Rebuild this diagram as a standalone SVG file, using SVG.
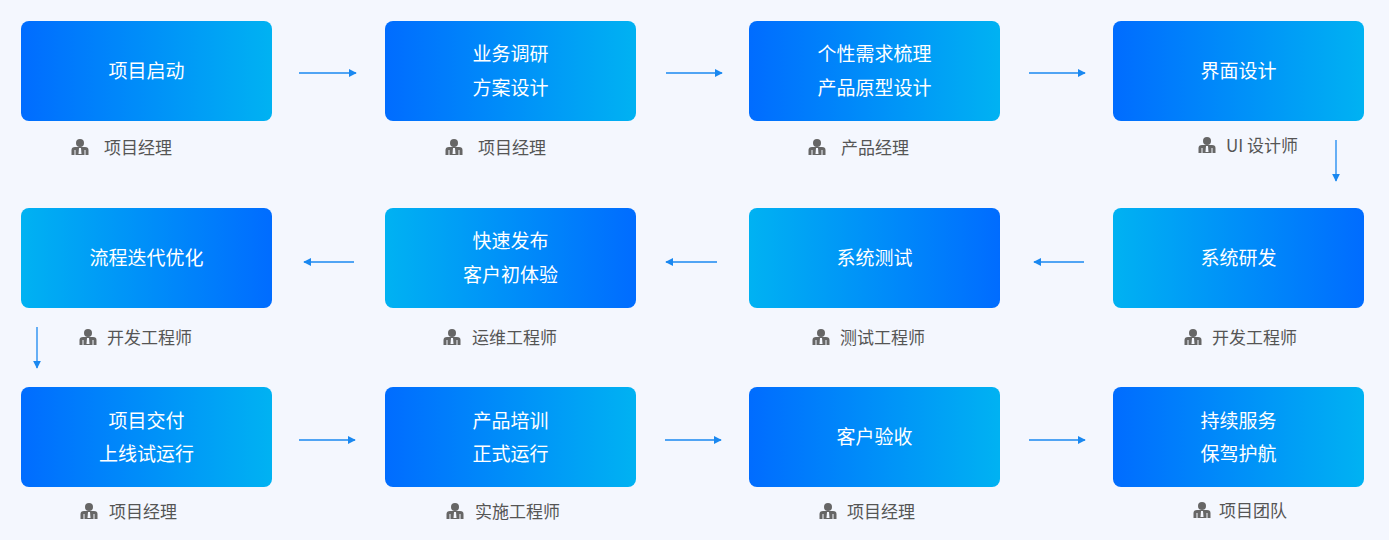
<svg xmlns="http://www.w3.org/2000/svg" width="1389" height="540" viewBox="0 0 1389 540">
<defs>
<linearGradient id="gA" x1="0" y1="0" x2="1" y2="0"><stop offset="0" stop-color="#006cff"/><stop offset="1" stop-color="#00b2f2"/></linearGradient>
<linearGradient id="gB" x1="0" y1="0" x2="1" y2="0"><stop offset="0" stop-color="#00b2f2"/><stop offset="1" stop-color="#006cff"/></linearGradient>
<marker id="ar" viewBox="0 0 10 10" refX="9" refY="5" markerWidth="8" markerHeight="8" markerUnits="userSpaceOnUse" orient="auto"><path d="M0,0 L10,5 L0,10 z" fill="#1a88f0"/></marker>
<g id="ic"><circle cx="0" cy="-4" r="4" fill="#666"/><path d="M-8.5,8 L-8.5,3 Q-8.5,0 -5,0 L5,0 Q8.5,0 8.5,3 L8.5,8 Z" fill="#666"/><path d="M-1,1 L1,1 L1.5,7 L-1.5,7 Z" fill="#f4f7fe"/><path d="M-5,3 v5 M5,3 v5" stroke="#f4f7fe" stroke-width="1"/></g>
</defs>
<style>
.b{rx:8}
.t{font-family:"Noto Sans CJK SC","Noto Sans",sans-serif;font-size:19px;fill:#fff;text-anchor:middle}
.l{font-family:"Noto Sans CJK SC","Noto Sans",sans-serif;font-size:17px;fill:#555}
.c{stroke:#1a88f0;stroke-width:1.3;fill:none;marker-end:url(#ar)}
</style>
<rect width="1389" height="540" fill="#f4f7fe"/>
<g id="n1"><rect class="b" x="21" y="21" width="251" height="100" fill="url(#gA)"/><text class="t" x="146.5" y="78">项目启动</text><use href="#ic" x="80" y="147"/><text class="l" x="104" y="154">项目经理</text></g>
<g id="n2"><rect class="b" x="385" y="21" width="251" height="100" fill="url(#gA)"/><text class="t" x="510.5" y="61">业务调研</text><text class="t" x="510.5" y="95">方案设计</text><use href="#ic" x="454" y="147"/><text class="l" x="478" y="154">项目经理</text></g>
<g id="n3"><rect class="b" x="749" y="21" width="251" height="100" fill="url(#gA)"/><text class="t" x="874.5" y="61">个性需求梳理</text><text class="t" x="874.5" y="95">产品原型设计</text><use href="#ic" x="817" y="147"/><text class="l" x="841" y="154">产品经理</text></g>
<g id="n4"><rect class="b" x="1113" y="21" width="251" height="100" fill="url(#gA)"/><text class="t" x="1238.5" y="78">界面设计</text><use href="#ic" x="1207" y="145"/><text class="l" x="1226" y="152">UI 设计师</text></g>
<g id="n5"><rect class="b" x="1113" y="208" width="251" height="100" fill="url(#gB)"/><text class="t" x="1238.5" y="265">系统研发</text><use href="#ic" x="1193" y="337"/><text class="l" x="1212" y="344">开发工程师</text></g>
<g id="n6"><rect class="b" x="749" y="208" width="251" height="100" fill="url(#gB)"/><text class="t" x="874.5" y="265">系统测试</text><use href="#ic" x="821" y="337"/><text class="l" x="840" y="344">测试工程师</text></g>
<g id="n7"><rect class="b" x="385" y="208" width="251" height="100" fill="url(#gB)"/><text class="t" x="510.5" y="248">快速发布</text><text class="t" x="510.5" y="282">客户初体验</text><use href="#ic" x="452" y="337"/><text class="l" x="472" y="344">运维工程师</text></g>
<g id="n8"><rect class="b" x="21" y="208" width="251" height="100" fill="url(#gB)"/><text class="t" x="146.5" y="265">流程迭代优化</text><use href="#ic" x="88" y="337"/><text class="l" x="107" y="344">开发工程师</text></g>
<g id="n9"><rect class="b" x="21" y="387" width="251" height="100" fill="url(#gA)"/><text class="t" x="146.5" y="428">项目交付</text><text class="t" x="146.5" y="461">上线试运行</text><use href="#ic" x="89" y="511"/><text class="l" x="109" y="518">项目经理</text></g>
<g id="n10"><rect class="b" x="385" y="387" width="251" height="100" fill="url(#gA)"/><text class="t" x="510.5" y="428">产品培训</text><text class="t" x="510.5" y="461">正式运行</text><use href="#ic" x="455" y="511"/><text class="l" x="475" y="518">实施工程师</text></g>
<g id="n11"><rect class="b" x="749" y="387" width="251" height="100" fill="url(#gA)"/><text class="t" x="874.5" y="444">客户验收</text><use href="#ic" x="828" y="511"/><text class="l" x="847" y="518">项目经理</text></g>
<g id="n12"><rect class="b" x="1113" y="387" width="251" height="100" fill="url(#gA)"/><text class="t" x="1238.5" y="428">持续服务</text><text class="t" x="1238.5" y="461">保驾护航</text><use href="#ic" x="1202" y="510"/><text class="l" x="1219" y="517">项目团队</text></g>
<g id="connectors">
<path class="c" d="M299,73 H356"/><path class="c" d="M666,73 H722"/><path class="c" d="M1029,73 H1085"/>
<path class="c" d="M1336,140 V181"/>
<path class="c" d="M1084,262 H1034"/><path class="c" d="M717,262 H666"/><path class="c" d="M354,262 H304"/>
<path class="c" d="M37,327 V368"/>
<path class="c" d="M299,440 H355"/><path class="c" d="M665,440 H721"/><path class="c" d="M1029,440 H1085"/>
</g>
</svg>
